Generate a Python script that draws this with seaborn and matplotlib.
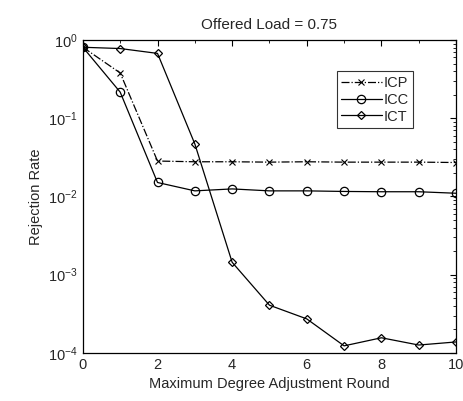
import numpy as np
import pandas as pd
import matplotlib
matplotlib.use("Agg")
import matplotlib.pyplot as plt
import matplotlib.ticker as mticker
import seaborn as sns

rounds = [0, 1, 2, 3, 4, 5, 6, 7, 8, 9, 10]
icp = [0.81, 0.38, 0.0284, 0.0278, 0.0278, 0.0275, 0.0278, 0.0275, 0.0275, 0.0275, 0.0272]
icc = [0.81, 0.216, 0.0151, 0.0118, 0.0125, 0.0118, 0.0118, 0.0116, 0.0115, 0.0115, 0.011]
ict = [0.81, 0.78, 0.676, 0.047, 0.00144, 0.000407, 0.000272, 0.000123, 0.000156, 0.000126, 0.000138]
series_names = ["ICP", "ICC", "ICT"]

sns.set_theme(style="white")
plt.rcParams['font.family'] = ['Liberation Sans', 'DejaVu Sans']

fig = plt.figure(figsize=(4.63, 4.01), dpi=100)
ax = fig.add_axes([0.179, 0.120, 0.806, 0.780])

styles = {
    "ICP": dict(marker="x", linestyle="-.", markersize=5, mew=0.8),
    "ICC": dict(marker="o", linestyle="-", markersize=6, mew=0.9, mfc="none"),
    "ICT": dict(marker="D", linestyle="-", markersize=4.5, mew=0.9, mfc="none"),
}
for name, vals in zip(series_names, [icp, icc, ict]):
    df = pd.DataFrame({"round": rounds, "rate": vals})
    st = styles[name]
    sns.lineplot(data=df, x="round", y="rate", ax=ax, color="black", lw=0.9,
                 marker=st["marker"], linestyle=st["linestyle"], markersize=st["markersize"],
                 markeredgewidth=st["mew"], markerfacecolor=st.get("mfc", "black"),
                 markeredgecolor="black", label=name)

ax.set_yscale("log")
ax.set_xlim(0, 10)
ax.set_ylim(1e-4, 1e0)
ax.yaxis.set_minor_locator(mticker.LogLocator(base=10, subs=np.arange(2, 10), numticks=20))
ax.yaxis.set_minor_formatter(mticker.NullFormatter())
ax.set_xticks([0, 2, 4, 6, 8, 10])
ax.set_xticks(np.arange(0, 11, 1), minor=True)
ax.set_xticklabels(["0", "2", "4", "6", "8", "10"])
ax.tick_params(which="both", direction="in", top=True, right=True, labelsize=10.5, color="black")
ax.tick_params(which="major", length=4, width=0.8)
ax.tick_params(which="minor", length=2, width=0.6)
for s in ax.spines.values():
    s.set_color("black")
    s.set_linewidth(0.9)

ax.set_xlabel("Maximum Degree Adjustment Round", fontsize=10.5, labelpad=4)
ax.set_ylabel("Rejection Rate", fontsize=10.5, labelpad=4)
ax.set_title("Offered Load = 0.75", fontsize=11, pad=8)

leg = ax.legend(loc="upper left", bbox_to_anchor=(0.68, 0.90), frameon=True, fancybox=False,
                edgecolor="black", fontsize=10.5, handlelength=2.8, borderpad=0.3,
                labelspacing=0.2, handletextpad=0.1, borderaxespad=0)
leg.get_frame().set_linewidth(0.8)

fig.savefig("out.png", dpi=100)
